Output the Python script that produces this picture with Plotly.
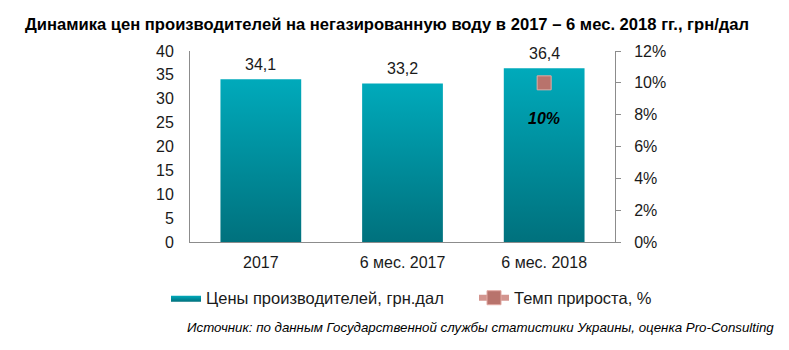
import plotly.graph_objects as go

# Data
categories = ["2017", "6 мес. 2017", "6 мес. 2018"]
prices = [34.1, 33.2, 36.4]          # грн/дал
growth = [None, None, 10]            # %
price_labels = ["34,1", "33,2", "36,4"]
growth_labels = [None, None, "10%"]

series_price = "Цены производителей, грн.дал"
series_growth = "Темп прироста, %"

BAR_HALF = 0.285
TEAL_TOP = "#00AABB"
TEAL_BOTTOM = "#00717D"
FONT = "Arial, Liberation Sans, sans-serif"

# Page / plot-area geometry (px)
L, R, T, B = 190, 174, 51, 108
W, H = 789, 350
pw, ph = W - L - R, H - T - B

fig = go.Figure()

# Bars with a vertical gradient fill
for i, v in enumerate(prices):
    fig.add_trace(go.Scatter(
        x=[i - BAR_HALF, i + BAR_HALF, i + BAR_HALF, i - BAR_HALF, i - BAR_HALF],
        y=[0, 0, v, v, 0],
        mode="lines",
        line=dict(width=0, color=TEAL_BOTTOM),
        fill="toself",
        fillgradient=dict(type="vertical",
                          colorscale=[[0, TEAL_BOTTOM], [1, TEAL_TOP]]),
        name=series_price,
        legendgroup="price",
        legend="legend",
        showlegend=(i == 0),
        hoverinfo="skip",
    ))

# Growth-rate series on the secondary axis
fig.add_trace(go.Scatter(
    x=list(range(len(categories))),
    y=growth,
    yaxis="y2",
    mode="lines+markers",
    name=series_growth,
    legend="legend2",
    line=dict(color="#D3958F", width=6),
    marker=dict(symbol="square", size=14, color="#B8736C",
                line=dict(color="#E3AAA3", width=1)),
))

annotations = []
for i, (v, t) in enumerate(zip(prices, price_labels)):
    annotations.append(dict(x=i, y=v, xref="x", yref="y", text=t,
                            showarrow=False, yanchor="bottom", yshift=4,
                            font=dict(family=FONT, size=16, color="#1a1a1a")))
for i, (v, t) in enumerate(zip(growth, growth_labels)):
    if v is None:
        continue
    annotations.append(dict(x=i, y=v, xref="x", yref="y2",
                            text="<b><i>" + t + "</i></b>",
                            showarrow=False, yshift=-36,
                            font=dict(family=FONT, size=16, color="#000000")))

# Source line
annotations.append(dict(
    x=(776 - L) / pw, y=(H - B - 327) / ph, xref="paper", yref="paper",
    text="<i>Источник: по данным Государственной службы статистики Украины, оценка Pro-Consulting</i>",
    showarrow=False, xanchor="right", yanchor="middle",
    font=dict(family=FONT, size=13.3, color="#000000"),
))

legend_common = dict(
    orientation="h", yanchor="middle", xanchor="left",
    y=(H - B - 298) / ph,
    font=dict(family=FONT, size=16.5, color="#1a1a1a"),
    itemwidth=30, bgcolor="rgba(0,0,0,0)",
)

fig.update_layout(
    width=W, height=H,
    margin=dict(l=L, r=R, t=T, b=B),
    paper_bgcolor="white", plot_bgcolor="white",
    font=dict(family=FONT, size=16, color="#1a1a1a"),
    title=dict(
        text="<b>Динамика цен производителей на негазированную воду в 2017 – 6 мес. 2018 гг., грн/дал</b>",
        x=387 / W, xref="container", xanchor="center",
        y=1 - 24 / H, yref="container", yanchor="middle",
        font=dict(family=FONT, size=16.6, color="#000000"),
    ),
    xaxis=dict(
        range=[-0.5, 2.5], tickvals=list(range(len(categories))),
        ticktext=categories, showline=True, linecolor="#8c8c8c", linewidth=1,
        showgrid=False, zeroline=False,
        ticks="outside", ticklen=6, tickcolor="rgba(0,0,0,0)",
        tickfont=dict(family=FONT, size=16, color="#1a1a1a"),
    ),
    yaxis=dict(
        range=[0, 40], dtick=5, showline=True, linecolor="#8c8c8c",
        linewidth=1, showgrid=False, zeroline=False,
        ticks="outside", ticklen=12, tickcolor="rgba(0,0,0,0)",
        tickfont=dict(family=FONT, size=16, color="#1a1a1a"),
    ),
    yaxis2=dict(
        range=[0, 12], dtick=2, overlaying="y", side="right",
        ticksuffix="%", showline=True, linecolor="#8c8c8c", linewidth=1,
        showgrid=False, zeroline=False,
        ticks="outside", ticklen=5, tickcolor="#8c8c8c",
        ticklabelstandoff=10,
        tickfont=dict(family=FONT, size=16, color="#1a1a1a"),
    ),
    legend=dict(legend_common, x=(166 - L) / pw),
    legend2=dict(legend_common, x=(474 - L) / pw),
    annotations=annotations,
    showlegend=True,
)

fig.write_html("out.html")
